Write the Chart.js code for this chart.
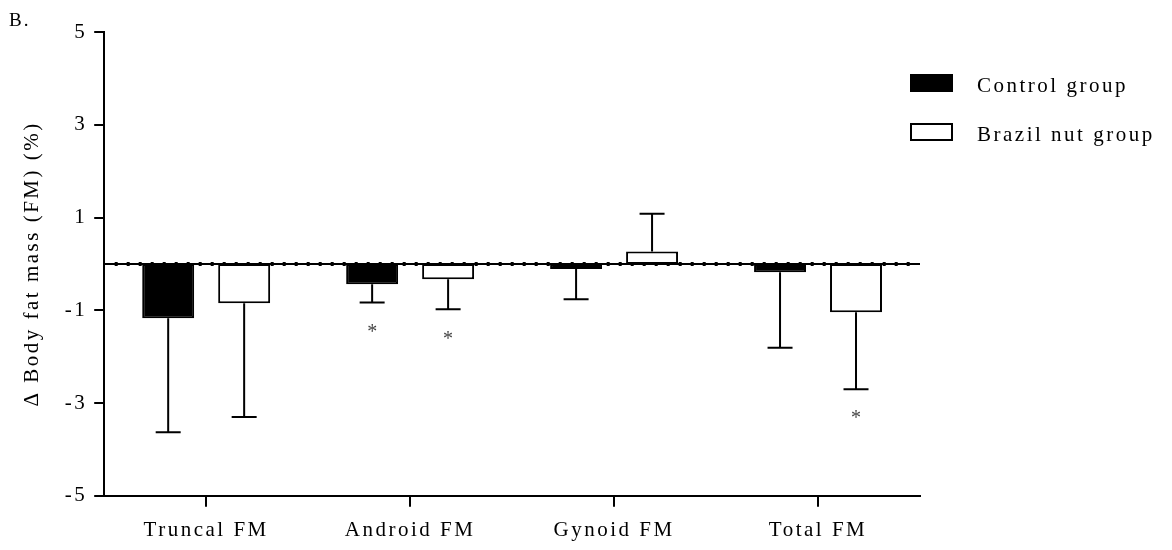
<!DOCTYPE html>
<html>
<head>
<meta charset="utf-8">
<script src="https://cdn.jsdelivr.net/npm/chart.js@4.4.0/dist/chart.umd.min.js"></script>
<style>
  html, body { margin: 0; padding: 0; background: #fff; }
  #wrap { width: 1172px; height: 550px; }
</style>
</head>
<body>
<div id="wrap"><canvas id="fatChart"></canvas></div>
<script>
// Body regions on the x axis
const regions = ['Truncal FM', 'Android FM', 'Gynoid FM', 'Total FM'];

// Mean change in fat mass (%) for each group
const controlMean = [-1.17, -0.44, -0.11, -0.18];
const brazilMean = [-0.85, -0.33, 0.27, -1.04];

// Standard deviations, drawn one-sided away from zero
const controlSd = [2.46, 0.39, 0.65, 1.63];
const brazilSd = [2.45, 0.65, 0.81, 1.66];

// Significant within-group change (asterisk under the bar)
const controlSig = [false, true, false, false];
const brazilSig = [false, true, false, true];

// Y axis tick labels
const yTicks = [-5, -3, -1, 1, 3, 5];

const FONT = 'Liberation Serif';
const SPACING = '2.5px';

//Wide letter spacing for every text drawn on the canvas
const spacingPlugin = {
    id: 'spacing',
    beforeUpdate(chart) { chart.ctx.letterSpacing = SPACING; },
    beforeDraw(chart) { chart.ctx.letterSpacing = SPACING; }
};

//Dotted zero line, SD whiskers and asterisks
const errorBarPlugin = {
    id: 'errorBars',
    afterDatasetsDraw(chart) {
        const ctx = chart.ctx;
        const yScale = chart.scales.y;
        const area = chart.chartArea;
        ctx.save();
        ctx.letterSpacing = '0px';

        const y0 = Math.round(yScale.getPixelForValue(0));
        ctx.strokeStyle = '#000';
        ctx.fillStyle = '#000';
        ctx.lineWidth = 2;
        ctx.beginPath();
        ctx.moveTo(area.left, y0);
        ctx.lineTo(area.right, y0);
        ctx.stroke();
        for (let x = area.left + 12; x < area.right - 2; x += 12) {
            ctx.fillRect(x - 1.5, y0 - 2, 3, 4);
        }

        chart.data.datasets.forEach((ds, i) => {
            const meta = chart.getDatasetMeta(i);
            meta.data.forEach((bar, j) => {
                const mean = ds.data[j];
                const end = mean < 0 ? mean - ds.sd[j] : mean + ds.sd[j];
                const yb = yScale.getPixelForValue(mean);
                const ye = yScale.getPixelForValue(end);
                ctx.strokeStyle = '#000';
                ctx.lineWidth = 2;
                ctx.beginPath();
                ctx.moveTo(bar.x, yb);
                ctx.lineTo(bar.x, ye);
                ctx.moveTo(bar.x - 12.5, ye);
                ctx.lineTo(bar.x + 12.5, ye);
                ctx.stroke();

                if (ds.sig[j]) {
                    ctx.fillStyle = '#444';
                    ctx.font = '20px ' + FONT;
                    ctx.textAlign = 'center';
                    ctx.textBaseline = 'middle';
                    ctx.fillText('*', bar.x, ye + 30);
                }
            });
        });
        ctx.restore();
    }
};

//Legend at the right and the panel letter
const legendPlugin = {
    id: 'sideLegend',
    afterDraw(chart) {
        const ctx = chart.ctx;
        ctx.save();
        ctx.letterSpacing = SPACING;
        ctx.font = '21px ' + FONT;
        ctx.textAlign = 'left';
        ctx.textBaseline = 'alphabetic';
        ctx.fillStyle = '#000';

        const boxX = 910, boxW = 43, boxH = 18;
        const rows = [74, 123];
        chart.data.datasets.forEach((ds, i) => {
            const top = rows[i];
            ctx.fillStyle = ds.backgroundColor;
            ctx.fillRect(boxX, top, boxW, boxH);
            ctx.strokeStyle = ds.borderColor;
            ctx.lineWidth = 2;
            ctx.strokeRect(boxX + 1, top + 1, boxW - 2, boxH - 2);
            ctx.fillStyle = '#000';
            ctx.fillText(ds.label, 977, top + 18);
        });

        ctx.font = '19px ' + FONT;
        ctx.letterSpacing = '2px';
        ctx.fillText('B.', 9, 26);
        ctx.restore();
    }
};

const tickFont = { family: FONT, size: 21 };

const config = {
    type: 'bar',
    data: {
        labels: regions,
        datasets: [
            {
                label: 'Control group',
                data: controlMean,
                sd: controlSd,
                sig: controlSig,
                backgroundColor: '#000',
                borderColor: '#000',
                borderWidth: 2,
                borderSkipped: false,
                categoryPercentage: 0.745,
                barPercentage: 0.684
            },
            {
                label: 'Brazil nut group',
                data: brazilMean,
                sd: brazilSd,
                sig: brazilSig,
                backgroundColor: '#fff',
                borderColor: '#000',
                borderWidth: 2,
                borderSkipped: false,
                categoryPercentage: 0.745,
                barPercentage: 0.684
            }
        ]
    },
    options: {
        responsive: true,
        maintainAspectRatio: false,
        animation: false,
        layout: {
            padding: { left: 16, right: 252, top: 32, bottom: -4 }
        },
        plugins: {
            legend: { display: false },
            tooltip: { enabled: false }
        },
        scales: {
            x: {
                grid: {
                    drawOnChartArea: false,
                    offset: false,
                    tickLength: 11,
                    color: '#000',
                    lineWidth: 2
                },
                border: { color: '#000', width: 2 },
                ticks: { color: '#000', font: tickFont, padding: 11 }
            },
            y: {
                min: -5,
                max: 5,
                afterBuildTicks: (scale) => {
                    scale.ticks = yTicks.map(v => ({ value: v }));
                },
                grid: {
                    drawOnChartArea: false,
                    tickLength: 10,
                    color: '#000',
                    lineWidth: 2
                },
                border: { color: '#000', width: 2 },
                ticks: { color: '#000', font: tickFont, padding: 7 },
                title: {
                    display: true,
                    text: 'Δ Body fat mass (FM) (%)',
                    color: '#000',
                    font: tickFont,
                    padding: { top: 4, bottom: 12.5 }
                }
            }
        }
    },
    plugins: [spacingPlugin, errorBarPlugin, legendPlugin]
};

//Rendering the chart
const ctx = document.getElementById('fatChart').getContext('2d');
new Chart(ctx, config);
</script>
</body>
</html>
